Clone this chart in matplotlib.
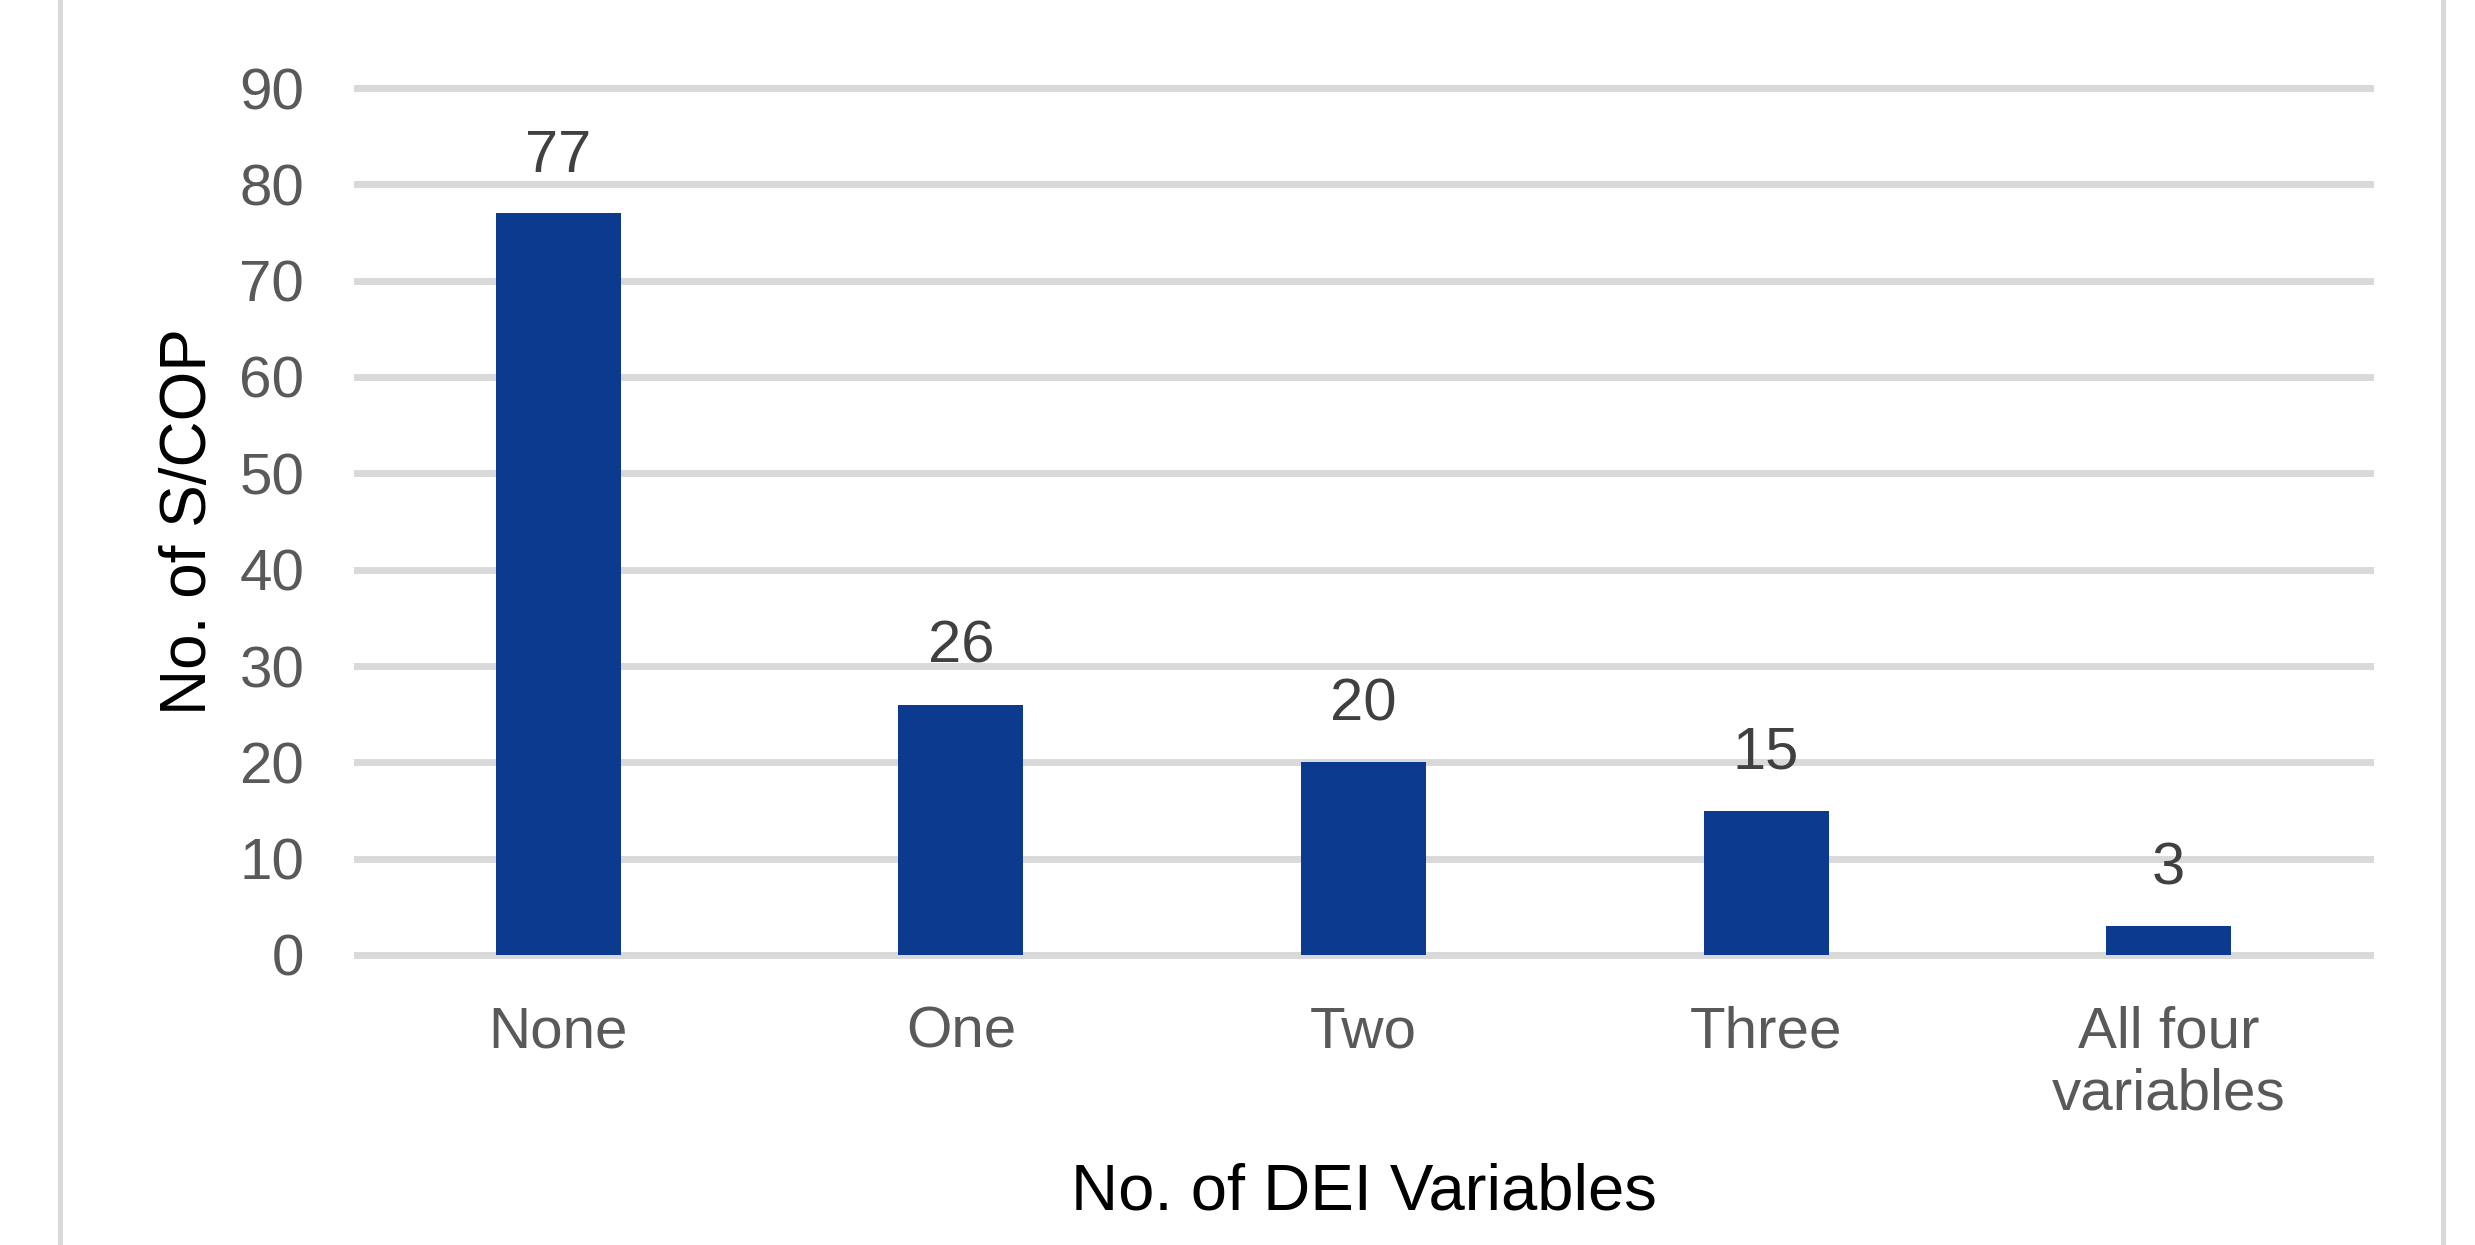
import matplotlib
matplotlib.use('Agg')
import matplotlib.pyplot as plt
from matplotlib.lines import Line2D
import numpy as np

plt.rcParams['font.family'] = ['Liberation Sans', 'DejaVu Sans']

# ── Data ──────────────────────────────────────────────────────────────────────
categories = ['None', 'One', 'Two', 'Three', 'All four\nvariables']
counts = [77, 26, 20, 15, 3]
y_ticks = [0, 10, 20, 30, 40, 50, 60, 70, 80, 90]

BAR_COLOR = '#0C3A8F'
GRID_COLOR = '#D9D9D9'

# ── Figure ────────────────────────────────────────────────────────────────────
W, H = 2475, 1245
DPI = 100
fig = plt.figure(figsize=(W / DPI, H / DPI), dpi=DPI, facecolor='white')

# axes box in pixels: left 357, right 2370, top 88 (=90), bottom 955 (=0)
ax = fig.add_axes([357 / W, 1 - 955 / H, (2370 - 357) / W, (955 - 88) / H])

x = np.arange(len(categories))
bars = ax.bar(x, counts, width=0.31, color=BAR_COLOR, zorder=3)

for xi, v in zip(x, counts):
    ax.annotate(str(v), xy=(xi, v), xytext=(0, 30), textcoords='offset points',
                ha='center', va='baseline', fontsize=43, color='#404040')

ax.set_xlim(-0.5, len(categories) - 0.5)
ax.set_ylim(0, 90)
ax.set_yticks(y_ticks)
ax.set_xticks(x)
ax.set_xticklabels(categories, fontsize=42, color='#595959', linespacing=1.2)
ax.tick_params(axis='x', length=0, pad=36)
ax.tick_params(axis='y', length=0, pad=38, labelsize=42, labelcolor='#595959')

ax.yaxis.grid(True, color=GRID_COLOR, linewidth=5, zorder=0)
ax.set_axisbelow(True)
for gl in ax.get_ygridlines():
    gl.set_clip_on(False)
for s in ax.spines.values():
    s.set_visible(False)

ax.set_ylabel('No. of S/COP', fontsize=46, color='black')
ax.yaxis.label.set_va('center')
ax.yaxis.set_label_coords((189 - 357) / (2370 - 357), 0.5)

ax.set_xlabel('No. of DEI Variables', fontsize=47, color='black')
ax.xaxis.label.set_va('baseline')
ax.xaxis.set_label_coords(0.5, -(1210 - 955) / (955 - 88))

# ── Chart-area border (left / right edges visible) ───────────────────────────
for px in (60, 2443):
    fig.add_artist(Line2D([px / W, px / W], [0, 1], transform=fig.transFigure,
                          color=GRID_COLOR, linewidth=3.6))

fig.savefig('out.png', dpi=DPI, facecolor='white')
